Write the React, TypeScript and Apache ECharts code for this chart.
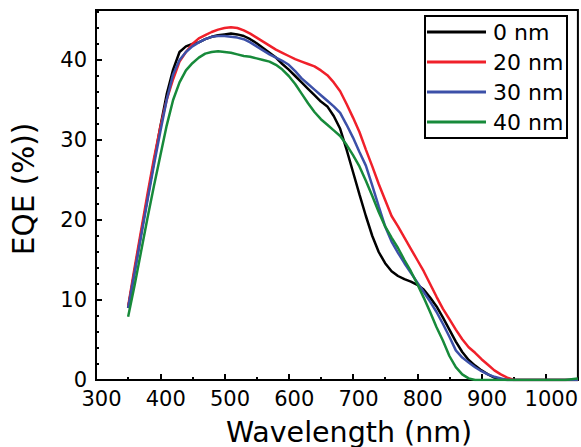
import React, { useEffect, useRef } from "react";
import * as echarts from "echarts";

const wavelengths = [
  350, 360, 370, 380, 390, 400, 410, 420, 430, 440, 450, 460, 470, 480, 490,
  500, 510, 520, 530, 540, 550, 560, 570, 580, 590, 600, 610, 620, 630, 640,
  650, 660, 670, 680, 690, 700, 710, 720, 730, 740, 750, 760, 770, 780, 790,
  800, 810, 820, 830, 840, 850, 860, 870, 880, 890, 900, 910, 920, 930, 940,
  950, 960, 970, 980, 990, 1000, 1010, 1020, 1030, 1040, 1050,
];

const eqe0nm = [
  9.0, 13.6, 18.2, 22.7, 27.2, 31.6, 35.7, 38.8, 41.0, 41.7, 42.0, 42.2, 42.6, 42.9, 43.1,
  43.2, 43.3, 43.2, 43.0, 42.6, 42.1, 41.5, 40.9, 40.3, 39.5, 38.8, 38.0, 37.2, 36.4, 35.6,
  34.8, 34.2, 33.0, 31.4, 28.8, 26.0, 23.2, 20.5, 18.0, 16.0, 14.6, 13.6, 13.0, 12.6, 12.3,
  11.9, 11.3, 10.3, 9.2, 7.8, 6.3, 4.8, 3.5, 2.5, 1.8, 1.2, 0.7, 0.3, 0.1, 0,
  0, 0, 0, 0, 0, 0, 0, 0, 0, 0, 0,
];

const eqe20nm = [
  9.2, 14.0, 18.6, 23.2, 27.6, 31.6, 35.0, 37.6, 39.8, 41.0, 42.0, 42.7, 43.1, 43.5, 43.8,
  44.0, 44.1, 44.0, 43.7, 43.3, 42.8, 42.3, 41.8, 41.3, 40.9, 40.5, 40.1, 39.8, 39.5, 39.2,
  38.7, 38.1, 37.2, 36.1, 34.5, 32.8, 31.0, 28.8, 26.7, 24.5, 22.5, 20.5, 19.2, 17.8, 16.4,
  15.0, 13.6, 12.0, 10.4, 8.9, 7.6, 6.3, 5.1, 4.1, 3.4, 2.6, 1.9, 1.2, 0.7, 0.3,
  0, 0, 0, 0, 0, 0, 0, 0, 0, 0, 0,
];

const eqe30nm = [
  9.0, 13.4, 17.9, 22.4, 26.8, 31.0, 35.0, 38.2, 40.0, 41.0, 41.7, 42.2, 42.6, 42.9, 43.0,
  43.0, 42.9, 42.8, 42.6, 42.2, 41.7, 41.2, 40.7, 40.3, 39.9, 39.4, 38.6, 37.7, 37.0, 36.3,
  35.6, 34.9, 34.2, 33.4, 31.9, 30.3, 28.5, 26.8, 24.3, 21.7, 19.2, 17.3, 15.9, 14.6, 13.4,
  12.2, 11.0, 9.8, 8.5, 7.0, 5.4, 3.7, 2.8, 2.2, 1.6, 1.1, 0.7, 0.4, 0.2, 0,
  0, 0, 0, 0, 0, 0, 0, 0, 0, 0, 0,
];

const eqe40nm = [
  7.9, 11.8, 16.0, 20.2, 24.2, 28.0, 31.8, 35.0, 37.2, 38.7, 39.6, 40.3, 40.8, 41.0, 41.1,
  41.0, 40.9, 40.7, 40.5, 40.4, 40.2, 40.0, 39.8, 39.4, 38.8, 38.0, 37.0, 35.8, 34.6, 33.5,
  32.6, 31.9, 31.2, 30.5, 29.4, 28.1, 26.7, 24.9, 23.0, 21.0, 19.2, 17.8, 16.5, 15.0, 13.6,
  12.0, 10.3, 8.5, 6.6, 4.9, 3.0, 1.6, 0.7, 0.2, 0, 0, 0, 0, 0, 0,
  0, 0, 0, 0, 0, 0, 0, 0, 0, 0.1, 0.2,
];

const seriesNames = ["0 nm", "20 nm", "30 nm", "40 nm"];
const seriesValues = [eqe0nm, eqe20nm, eqe30nm, eqe40nm];
const seriesColors = ["#000000", "#f0202a", "#3c50a8", "#178a3a"];

const xTitle = "Wavelength (nm)";
const yTitle = "EQE (%))";

const FONT = "DejaVu Sans";

export default function App() {
  const ref = useRef<HTMLDivElement>(null);

  useEffect(() => {
    document.body.style.margin = "0";
    if (!ref.current) return;
    const chart = echarts.init(ref.current, undefined, { renderer: "svg" });

    const series = seriesNames.map((name, k) => ({
      name,
      type: "line",
      xAxisIndex: 0,
      yAxisIndex: 0,
      showSymbol: false,
      symbol: "none",
      clip: true,
      data: wavelengths.map((w, i) => [w, seriesValues[k][i]]),
      lineStyle: { color: seriesColors[k], width: 2.5 },
      itemStyle: { color: seriesColors[k] },
    }));

    chart.setOption({
      animation: false,
      backgroundColor: "#ffffff",
      grid: {
        left: 96,
        right: 3,
        top: 10,
        bottom: 67,
        show: true,
        borderColor: "#000",
        borderWidth: 2,
        backgroundColor: "transparent",
      },
      legend: {
        data: seriesNames,
        orient: "vertical",
        left: 425,
        top: 16,
        padding: [4, 0, 4, 2],
        itemWidth: 59,
        itemHeight: 3,
        itemGap: 6,
        icon: "rect",
        borderWidth: 0,
        backgroundColor: "transparent",
        z: 6,
        textStyle: {
          fontFamily: FONT,
          fontSize: 22,
          color: "#000",
          lineHeight: 24,
          padding: [0, 0, 0, 2],
        },
      },
      xAxis: [
        {
          type: "value",
          min: 300,
          max: 1050,
          interval: 100,
          position: "bottom",
          axisLine: { show: true, onZero: false, lineStyle: { color: "#000", width: 2 } },
          axisTick: { show: true, inside: true, length: 6, lineStyle: { color: "#000", width: 2 } },
          axisLabel: {
            show: true,
            color: "#000",
            fontFamily: FONT,
            fontSize: 21,
            margin: 8,
            showMaxLabel: false,
            padding: [0, 0, 0, 11],
            formatter: (v: number) => String(v),
          },
          splitLine: { show: false },
        },
        {
          type: "value",
          min: 300,
          max: 1050,
          interval: 50,
          position: "bottom",
          axisLine: { show: false, onZero: false },
          axisTick: { show: true, inside: true, length: 3, lineStyle: { color: "#000", width: 2 } },
          axisLabel: { show: false },
          splitLine: { show: false },
        },
      ],
      yAxis: [
        {
          type: "value",
          min: 0,
          max: 46.25,
          interval: 10,
          position: "left",
          axisLine: { show: true, onZero: false, lineStyle: { color: "#000", width: 2 } },
          axisTick: { show: true, inside: true, length: 6, lineStyle: { color: "#000", width: 2 } },
          axisLabel: {
            show: true,
            color: "#000",
            fontFamily: FONT,
            fontSize: 21,
            margin: 9,
            showMaxLabel: false,
            formatter: (v: number) => String(v),
          },
          splitLine: { show: false },
        },
        {
          type: "value",
          min: 0,
          max: 46.25,
          interval: 2,
          position: "left",
          axisLine: { show: false, onZero: false },
          axisTick: { show: true, inside: true, length: 3, lineStyle: { color: "#000", width: 2 } },
          axisLabel: { show: false },
          splitLine: { show: false },
        },
      ],
      graphic: [
        {
          type: "rect",
          z: 5,
          shape: { x: 425, y: 16, width: 142, height: 122 },
          style: { fill: "#fff", stroke: "#000", lineWidth: 2 },
        },
        {
          type: "text",
          x: 24,
          y: 189,
          rotation: Math.PI / 2,
          style: {
            text: yTitle,
            fontFamily: FONT,
            fontSize: 29.5,
            fill: "#000",
            align: "center",
            verticalAlign: "middle",
          },
        },
        {
          type: "text",
          x: 349,
          y: 432,
          style: {
            text: xTitle,
            fontFamily: FONT,
            fontSize: 28.5,
            fill: "#000",
            align: "center",
            verticalAlign: "middle",
          },
        },
      ],
      series,
    });

    return () => {
      chart.dispose();
    };
  }, []);

  return <div ref={ref} style={{ width: 581, height: 447 }} />;
}
